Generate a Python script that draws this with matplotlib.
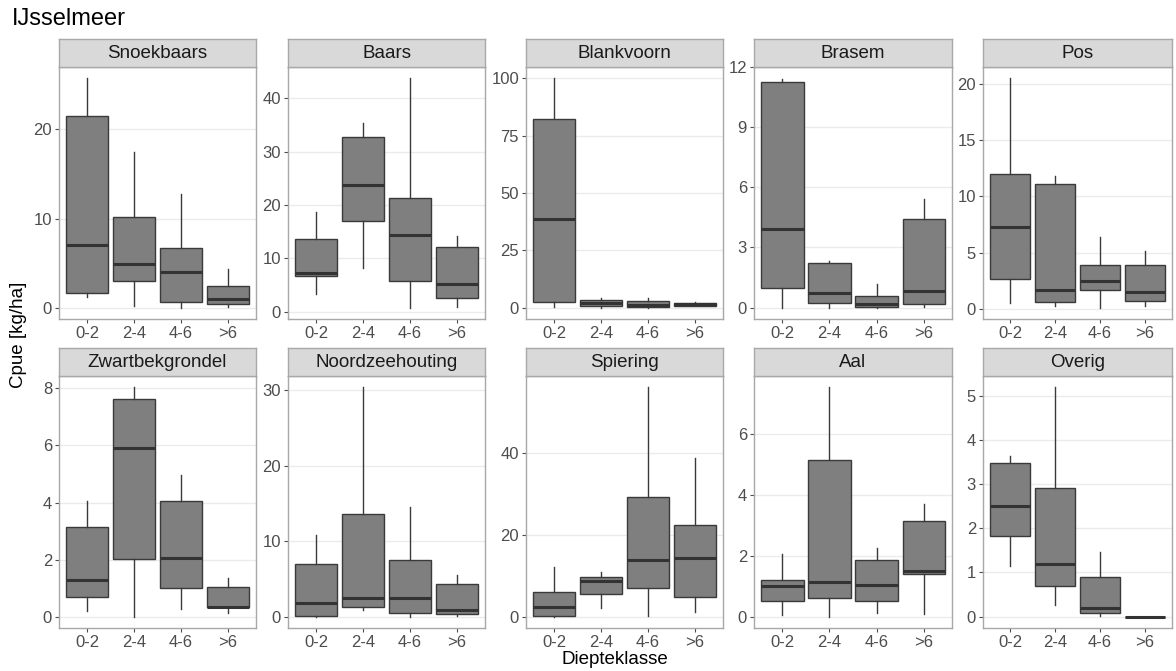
import matplotlib
matplotlib.use("Agg")
import matplotlib.pyplot as plt

plt.rcParams['font.family'] = ['Liberation Sans', 'DejaVu Sans']

categories = ["0-2", "2-4", "4-6", ">6"]
species = ["Snoekbaars", "Baars", "Blankvoorn", "Brasem", "Pos",
           "Zwartbekgrondel", "Noordzeehouting", "Spiering", "Aal", "Overig"]

# per species: [whislo, q1, median, q3, whishi] for each depth class
snoekbaars = [[1.3, 1.75, 7.1, 21.4, 25.6], [0.25, 3.1, 5.0, 10.15, 17.4],
              [0.1, 0.75, 4.1, 6.7, 12.75], [0.2, 0.55, 1.1, 2.5, 4.4]]
baars = [[3.3, 6.7, 7.2, 13.6, 18.6], [8.2, 17.0, 23.75, 32.8, 35.3],
         [0.75, 5.8, 14.4, 21.4, 43.75], [0.8, 2.45, 5.2, 12.1, 14.25]]
blankvoorn = [[0.3, 2.6, 38.5, 82.5, 100.0], [0.0, 0.8, 1.8, 3.2, 4.3],
              [0.0, 0.3, 1.3, 3.0, 4.0], [0.5, 0.8, 1.4, 2.0, 2.5]]
brasem = [[0.0, 1.0, 3.9, 11.27, 11.4], [0.0, 0.22, 0.73, 2.2, 2.33],
          [0.0, 0.05, 0.18, 0.6, 1.2], [0.02, 0.2, 0.83, 4.4, 5.4]]
pos = [[0.5, 2.65, 7.3, 12.0, 20.5], [0.2, 0.55, 1.7, 11.1, 11.85],
       [0.1, 1.65, 2.45, 3.85, 6.35], [0.25, 0.65, 1.45, 3.85, 5.1]]
zwartbekgrondel = [[0.2, 0.71, 1.3, 3.14, 4.05], [0.02, 2.02, 5.9, 7.62, 8.02],
                   [0.3, 1.01, 2.06, 4.05, 4.95], [0.16, 0.34, 0.37, 1.05, 1.36]]
noordzeehouting = [[0.05, 0.1, 1.8, 6.95, 10.9], [0.9, 1.3, 2.55, 13.6, 30.4],
                   [0.05, 0.5, 2.5, 7.5, 14.5], [0.1, 0.35, 0.9, 4.4, 5.6]]
spiering = [[0.0, 0.15, 2.3, 6.0, 12.1], [2.0, 5.6, 8.8, 9.6, 10.9],
            [0.15, 6.9, 13.9, 29.4, 56.2], [1.0, 4.75, 14.3, 22.5, 38.9]]
aal = [[0.05, 0.52, 1.0, 1.2, 2.05], [0.0, 0.6, 1.15, 5.15, 7.55],
       [0.12, 0.5, 1.05, 1.85, 2.25], [0.1, 1.4, 1.5, 3.15, 3.7]]
overig = [[1.15, 1.83, 2.5, 3.48, 3.64], [0.26, 0.69, 1.2, 2.91, 5.19],
          [0.02, 0.08, 0.2, 0.9, 1.47], [0.0, 0.0, 0.0, 0.0, 0.0]]

stats_all = [snoekbaars, baars, blankvoorn, brasem, pos,
             zwartbekgrondel, noordzeehouting, spiering, aal, overig]

yticks = [[0, 10, 20], [0, 10, 20, 30, 40], [0, 25, 50, 75, 100],
          [0, 3, 6, 9, 12], [0, 5, 10, 15, 20], [0, 2, 4, 6, 8],
          [0, 10, 20, 30], [0, 20, 40], [0, 2, 4, 6], [0, 1, 2, 3, 4, 5]]

W, H = 1176, 671
fig = plt.figure(figsize=(W / 100, H / 100), dpi=100)

col_px = [(59, 256), (288, 485), (526, 723), (754, 952), (983, 1172)]
row_px = [(39, 67, 319), (348, 376, 628)]

border_col = "#a8a8a8"
for i, sp in enumerate(species):
    r, c = divmod(i, 5)
    x0, x1 = col_px[c]
    st, sb, pb = row_px[r]
    ax = fig.add_axes([x0 / W, 1 - pb / H, (x1 - x0) / W, (pb - sb) / H])
    sax = fig.add_axes([x0 / W, 1 - sb / H, (x1 - x0) / W, (sb - st) / H])

    stats = []
    for cat, v in zip(categories, stats_all[i]):
        stats.append(dict(label=cat, whislo=v[0], q1=v[1], med=v[2],
                          q3=v[3], whishi=v[4], fliers=[]))
    ax.bxp(stats, positions=range(1, 5), widths=0.9, showcaps=False,
           showfliers=False, patch_artist=True,
           boxprops=dict(facecolor="#7f7f7f", edgecolor="#3a3a3a", linewidth=1.0),
           whiskerprops=dict(color="#3a3a3a", linewidth=1.0),
           medianprops=dict(color="#333333", linewidth=2.2, solid_capstyle="butt"),
           zorder=3)

    lo = min(v[0] for v in stats_all[i])
    hi = max(v[4] for v in stats_all[i])
    rng = hi - lo if hi > lo else 1
    ax.set_ylim(lo - 0.05 * rng, hi + 0.05 * rng)
    ax.set_xlim(0.4, 4.6)
    ax.set_yticks(yticks[i])
    ax.set_xticks(range(1, 5))
    ax.set_xticklabels(categories)
    ax.yaxis.grid(True, color="#ebebeb", linewidth=1.0, zorder=0)
    ax.set_axisbelow(True)
    ax.tick_params(axis="both", labelsize=12, labelcolor="#4d4d4d",
                   color="#4d4d4d", length=3, width=0.8, pad=2)
    for s in ax.spines.values():
        s.set_color(border_col)
        s.set_linewidth(1.0)

    sax.set_facecolor("#d9d9d9")
    sax.set_xticks([])
    sax.set_yticks([])
    for s in sax.spines.values():
        s.set_color(border_col)
        s.set_linewidth(1.0)
    sax.text(0.5, 0.47, sp, ha="center", va="center", fontsize=13.5,
             color="#1a1a1a", transform=sax.transAxes)

fig.text(12 / W, 1 - 19 / H, "IJsselmeer", fontsize=17, ha="left",
         va="center", color="black")
fig.text(19 / W, 1 - 335 / H, "Cpue [kg/ha]", fontsize=13.5, rotation=90,
         ha="center", va="center", color="black")
fig.text(615 / W, 1 - 660 / H, "Diepteklasse", fontsize=13.5, ha="center",
         va="center", color="black")

fig.savefig("out.png", dpi=100)
